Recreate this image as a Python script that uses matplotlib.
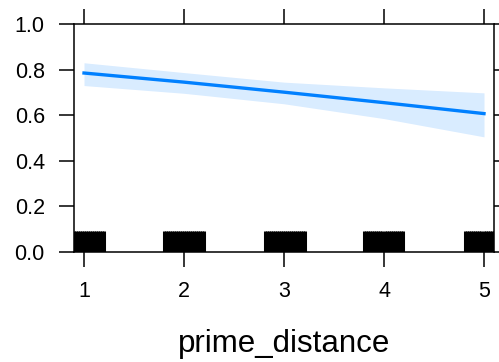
import numpy as np
import matplotlib
matplotlib.use('Agg')
import matplotlib.pyplot as plt

plt.rcParams['font.family'] = ['Liberation Sans', 'DejaVu Sans']

# effect estimates
prime_distance = [1, 2, 3, 4, 5]
fit = [0.785, 0.745, 0.701, 0.655, 0.607]
upper = [0.830, 0.787, 0.745, 0.720, 0.698]
lower = [0.730, 0.696, 0.650, 0.585, 0.505]

# jittered observations shown as the rug
rug_values = [
    0.90, 0.92, 0.94, 0.96, 0.98, 1.00, 1.02, 1.04, 1.06, 1.08, 1.10, 1.12, 1.14, 1.16, 1.18, 1.20,
    1.80, 1.82, 1.84, 1.86, 1.88, 1.90, 1.92, 1.94, 1.96, 1.98, 2.00, 2.02, 2.04, 2.06, 2.08, 2.10,
    2.12, 2.14, 2.16, 2.18, 2.20,
    2.81, 2.83, 2.85, 2.87, 2.89, 2.91, 2.93, 2.95, 2.97, 2.99, 3.01, 3.03, 3.05, 3.07, 3.09, 3.11,
    3.13, 3.15, 3.17, 3.19, 3.21,
    3.80, 3.82, 3.84, 3.86, 3.88, 3.90, 3.92, 3.94, 3.96, 3.98, 4.01, 4.03, 4.05, 4.07, 4.09, 4.11,
    4.13, 4.15, 4.17, 4.19,
    4.81, 4.83, 4.85, 4.87, 4.89, 4.91, 4.93, 4.95, 4.97, 5.00, 5.02, 5.04, 5.06, 5.08, 5.10,
]

x_ticks = [1, 2, 3, 4, 5]
y_ticks = [0.0, 0.2, 0.4, 0.6, 0.8, 1.0]

fig = plt.figure(figsize=(4.99, 3.62), dpi=100)
ax = fig.add_axes([0.1483, 0.3039, 0.99 - 0.1483, 0.9337 - 0.3039])

ax.fill_between(prime_distance, lower, upper, color='#0080ff', alpha=0.15, linewidth=0)
ax.plot(prime_distance, fit, color='#0080ff', linewidth=2.4)
ax.vlines(rug_values, 0, 0.09, transform=ax.get_xaxis_transform(), color='black', linewidth=2.2)

ax.set_xlim(0.9, 5.1)
ax.set_ylim(0, 1)
ax.set_xticks(x_ticks)
ax.set_yticks(y_ticks)
ax.set_xticklabels([str(v) for v in x_ticks])
ax.set_yticklabels([f'{v:.1f}' for v in y_ticks])

ax.tick_params(axis='both', direction='out', length=11, width=1.1, labelsize=15.5, pad=10)
ax.tick_params(top=True, right=True, labeltop=False, labelright=False)
for s in ax.spines.values():
    s.set_linewidth(1.1)

ax.set_xlabel('prime_distance', fontsize=22.5, labelpad=19)

fig.savefig('out.png', dpi=100)
